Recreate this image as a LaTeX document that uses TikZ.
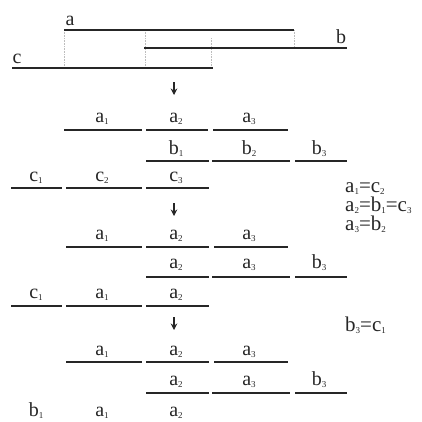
\documentclass[tikz,border=0pt]{standalone}
\usepackage{fontspec}
\setmainfont{Liberation Serif}
\usetikzlibrary{arrows.meta}
\definecolor{sink}{HTML}{262626}
\definecolor{sguide}{HTML}{BDBDBD}
\newcommand{\ix}[2]{#1\raisebox{-2.2pt}{\fontsize{9}{9}\selectfont #2}}
\tikzset{
  >=Stealth,
  seg/.style={line width=1.7pt, draw=sink},
  guide/.style={densely dotted, line width=0.6pt, draw=sguide},
  lab/.style={anchor=base, inner sep=0pt, text=sink, font=\fontsize{20}{22}\selectfont},
  eqn/.style={anchor=base west, inner sep=0pt, text=sink, font=\fontsize{21}{23}\selectfont},
  down/.style={-{Stealth[length=6.5pt,width=6.5pt]}, line width=1.5pt, draw=sink}
}

\begin{document}
\begin{tikzpicture}[x=1pt,y=-1pt]
  \useasboundingbox (0,0) rectangle (422,421);
  % whole strings
  \draw[guide] (64,30) -- (64,68);
  \draw[guide] (145,30) -- (145,68);
  \draw[guide] (211,38) -- (211,66);
  \draw[guide] (294,30) -- (294,48);
  \draw[seg] (64,30) -- (294,30);
  \draw[seg] (144,48) -- (347,48);
  \draw[seg] (12,68) -- (213,68);
  \node[lab] (a) at (70,25) {a};
  \node[lab] (b) at (341,43) {b};
  \node[lab] (c) at (17,63) {c};
  \coordinate (s1top) at (174,82);
  \coordinate (s1bot) at (174,95);
  \draw[down] (s1top) -- (s1bot);
  % first split
  \draw[seg] (64,130) -- (142,130);
  \draw[seg] (146,130) -- (208,130);
  \draw[seg] (213,130) -- (288,130);
  \node[lab] (ra1) at (102,122) {\ix{a}{1}};
  \node[lab] (ra2) at (176,122) {\ix{a}{2}};
  \node[lab] (ra3) at (249,122) {\ix{a}{3}};
  \draw[seg] (146,161) -- (209,161);
  \draw[seg] (212,161) -- (290,161);
  \draw[seg] (295,161) -- (347,161);
  \node[lab] (rb1) at (176,154) {\ix{b}{1}};
  \node[lab] (rb2) at (249,154) {\ix{b}{2}};
  \node[lab] (rb3) at (319,154) {\ix{b}{3}};
  \draw[seg] (11,188) -- (62,188);
  \draw[seg] (66,188) -- (142,188);
  \draw[seg] (146,188) -- (209,188);
  \node[lab] (rc1) at (36,181) {\ix{c}{1}};
  \node[lab] (rc2) at (102,181) {\ix{c}{2}};
  \node[lab] (rc3) at (176,181) {\ix{c}{3}};
  \node[eqn] (eq1) at (345,192) {\ix{a}{1}=\ix{c}{2}};
  \node[eqn] (eq2) at (345,211) {\ix{a}{2}=\ix{b}{1}=\ix{c}{3}};
  \node[eqn] (eq3) at (345,230) {\ix{a}{3}=\ix{b}{2}};
  \coordinate (s2top) at (174,203);
  \coordinate (s2bot) at (174,216);
  \draw[down] (s2top) -- (s2bot);
  % second split
  \draw[seg] (66,247) -- (142,247);
  \draw[seg] (146,247) -- (209,247);
  \draw[seg] (214,247) -- (288,247);
  \node[lab] (sa1) at (102,239) {\ix{a}{1}};
  \node[lab] (sa2) at (176,239) {\ix{a}{2}};
  \node[lab] (sa3) at (249,239) {\ix{a}{3}};
  \draw[seg] (146,277) -- (209,277);
  \draw[seg] (212,277) -- (290,277);
  \draw[seg] (295,277) -- (347,277);
  \node[lab] (sb1) at (176,268) {\ix{a}{2}};
  \node[lab] (sb2) at (249,268) {\ix{a}{3}};
  \node[lab] (sb3) at (319,268) {\ix{b}{3}};
  \draw[seg] (11,306) -- (62,306);
  \draw[seg] (66,306) -- (142,306);
  \draw[seg] (146,306) -- (209,306);
  \node[lab] (sc1) at (36,298) {\ix{c}{1}};
  \node[lab] (sc2) at (102,298) {\ix{a}{1}};
  \node[lab] (sc3) at (176,298) {\ix{a}{2}};
  \node[eqn] (eq4) at (345,331) {\ix{b}{3}=\ix{c}{1}};
  \coordinate (s3top) at (174,317);
  \coordinate (s3bot) at (174,330);
  \draw[down] (s3top) -- (s3bot);
  % third split
  \draw[seg] (66,362) -- (142,362);
  \draw[seg] (146,362) -- (209,362);
  \draw[seg] (214,362) -- (288,362);
  \node[lab] (ta1) at (102,355) {\ix{a}{1}};
  \node[lab] (ta2) at (176,355) {\ix{a}{2}};
  \node[lab] (ta3) at (249,355) {\ix{a}{3}};
  \draw[seg] (146,393) -- (209,393);
  \draw[seg] (212,393) -- (290,393);
  \draw[seg] (295,393) -- (347,393);
  \node[lab] (tb1) at (176,385) {\ix{a}{2}};
  \node[lab] (tb2) at (249,385) {\ix{a}{3}};
  \node[lab] (tb3) at (319,385) {\ix{b}{3}};
  \node[lab] (tc1) at (36,416) {\ix{b}{1}};
  \node[lab] (tc2) at (102,416) {\ix{a}{1}};
  \node[lab] (tc3) at (176,416) {\ix{a}{2}};
\end{tikzpicture}
\end{document}
